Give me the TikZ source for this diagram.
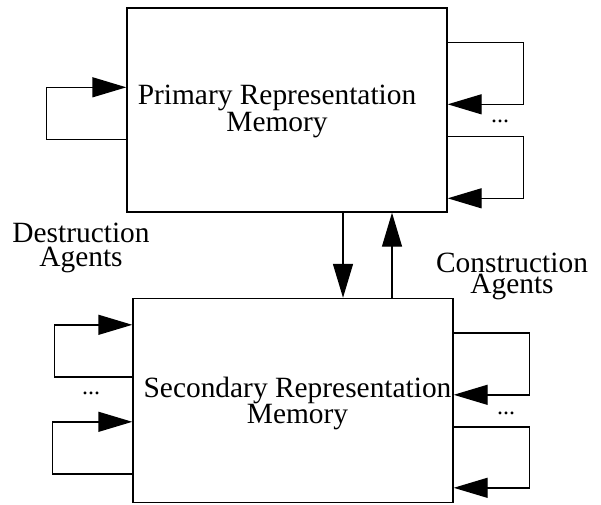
\documentclass[tikz,border=0pt]{standalone}
\usepackage{fontspec}
\setmainfont{Liberation Serif}
\usepackage{amsmath,tikz}
\usetikzlibrary{arrows.meta}

\begin{document}
\begin{tikzpicture}[x=1pt,y=-1pt,line width=1.4pt,
         memory/.style={draw,minimum width=320pt,inner sep=0pt},
         txt/.style={font=\fontsize{29.4}{20}\selectfont,inner sep=0pt,align=center},
         arr/.style={-{Triangle[length=34pt,width=20pt]}}]
         \useasboundingbox (0,0) rectangle (601,504);
         % the two memories
         \node[memory,minimum height=204pt] (prim) at (287,110) {};
         \node[memory,minimum height=204pt] (sec) at (293,400.5) {};
         \node[txt,font=\fontsize{29.4}{23}\selectfont] (primtxt) at (277,111.7) {Primary Representation\\Memory};
         \node[txt,font=\fontsize{29.4}{26}\selectfont] (sectxt) at (297.5,403.2) {Secondary Representation\\Memory};
         % agents between them
         \draw[arr] ([xshift=56pt]prim.south) -- ([xshift=56pt]prim.south |- sec.north);
         \draw[arr] ([xshift=105pt]prim.south |- sec.north) -- ([xshift=105pt]prim.south);
         \node[txt,font=\fontsize{29.4}{24}\selectfont] (destr) at (81,248.2) {Destruction\\Agents};
         \node[txt,font=\fontsize{29.4}{20.5}\selectfont] (constr) at (512,276.2) {Construction\\Agents};
         % loops on primary
         \draw[arr] ([yshift=-132pt]prim.north west) -- ++(-80,0) |- ([yshift=-80pt]prim.north west);
         \draw[arr] ([yshift=-35pt]prim.north east) -- ++(76,0) |- ([yshift=-97pt]prim.north east);
         \draw[arr] ([yshift=-129pt]prim.north east) -- ++(76,0) |- ([yshift=-191pt]prim.north east);
         \node[font=\fontsize{24}{24}\selectfont,anchor=base] (pdots) at (500,122) {...};
         % loops on secondary
         \draw[arr] ([yshift=-79pt]sec.north west) -- ++(-78,0) |- ([yshift=-27pt]sec.north west);
         \draw[arr] ([yshift=-176pt]sec.north west) -- ++(-80,0) |- ([yshift=-124pt]sec.north west);
         \node[font=\fontsize{24}{24}\selectfont,anchor=base] (sldots) at (91,394) {...};
         \draw[arr] ([yshift=-35pt]sec.north east) -- ++(76,0) |- ([yshift=-97pt]sec.north east);
         \draw[arr] ([yshift=-129pt]sec.north east) -- ++(76,0) |- ([yshift=-190pt]sec.north east);
         \node[font=\fontsize{24}{24}\selectfont,anchor=base] (srdots) at (506,414) {...};
       \end{tikzpicture}
\end{document}
